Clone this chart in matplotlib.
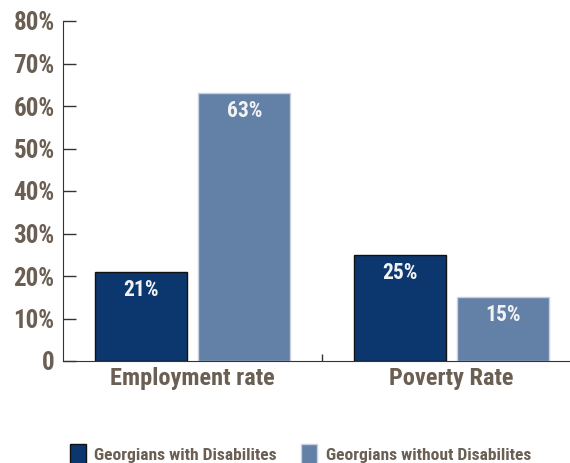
import matplotlib
matplotlib.use("Agg")
import matplotlib.pyplot as plt
import numpy as np

categories = ['Employment rate', 'Poverty Rate']
with_disab = [21, 25]
without_disab = [63, 15]
series_names = ['Georgians with Disabilites', 'Georgians without Disabilites']
yticks = [0, 10, 20, 30, 40, 50, 60, 70, 80]
ytick_labels = ['0', '10%', '20%', '30%', '40%', '50%', '60%', '70%', '80%']

dark = '#0c376e'
light = '#6380a6'
text_color = '#6b5e53'
plt.rcParams['font.family'] = ['Roboto Condensed', 'DejaVu Sans']

fig = plt.figure(figsize=(5.7, 4.63), dpi=100)
ax = fig.add_axes([63 / 570, 102 / 463, 507 / 570, 340 / 463])

x = np.arange(len(categories))
width = 0.355
b1 = ax.bar(x - 0.2, with_disab, width, color=dark, edgecolor='#111111', linewidth=1.0,
            label=series_names[0])
b2 = ax.bar(x + 0.2, without_disab, width, color=light, edgecolor='#c8d0dc', linewidth=1.0,
            label=series_names[1])

# value labels inside the top of each bar
for bars in (b1, b2):
    for rect in bars:
        h = rect.get_height()
        ax.annotate(f'{h:.0f}%', (rect.get_x() + rect.get_width() / 2, h),
                    xytext=(0, -5), textcoords='offset points', ha='center', va='top',
                    color='#f2f2f2', fontsize=15.5, fontweight='bold')

ax.set_xlim(-0.5, -0.5 + 507 / 259)
ax.set_ylim(0, 80)
ax.set_yticks(yticks)
ax.set_yticklabels(ytick_labels)
ax.set_xticks(x)
ax.set_xticklabels(categories)
ax.set_xticks([0.5], minor=True)

ax.tick_params(axis='y', direction='in', length=9.5, width=1, color='#333333', pad=6,
               labelsize=18, labelcolor=text_color)
ax.tick_params(axis='x', which='major', length=0, pad=4, labelsize=17.6, labelcolor=text_color)
ax.tick_params(axis='x', which='minor', direction='in', length=5, width=1, color='#333333')
for lab in ax.get_yticklabels() + ax.get_xticklabels():
    lab.set_fontweight('bold')

for s in ['top', 'right']:
    ax.spines[s].set_visible(False)
ax.spines['left'].set_color('#333333')
ax.spines['bottom'].set_color('#333333')

leg = fig.legend(handles=[b1, b2], labels=series_names, loc='lower left', ncol=2,
                 bbox_to_anchor=(54 / 570, -0.037), frameon=False,
                 prop={'size': 12.6, 'weight': 'bold'}, handlelength=0.9, handleheight=1.4,
                 handletextpad=0.5, columnspacing=1.4)
for t in leg.get_texts():
    t.set_color(text_color)

fig.savefig('out.png', dpi=100)
